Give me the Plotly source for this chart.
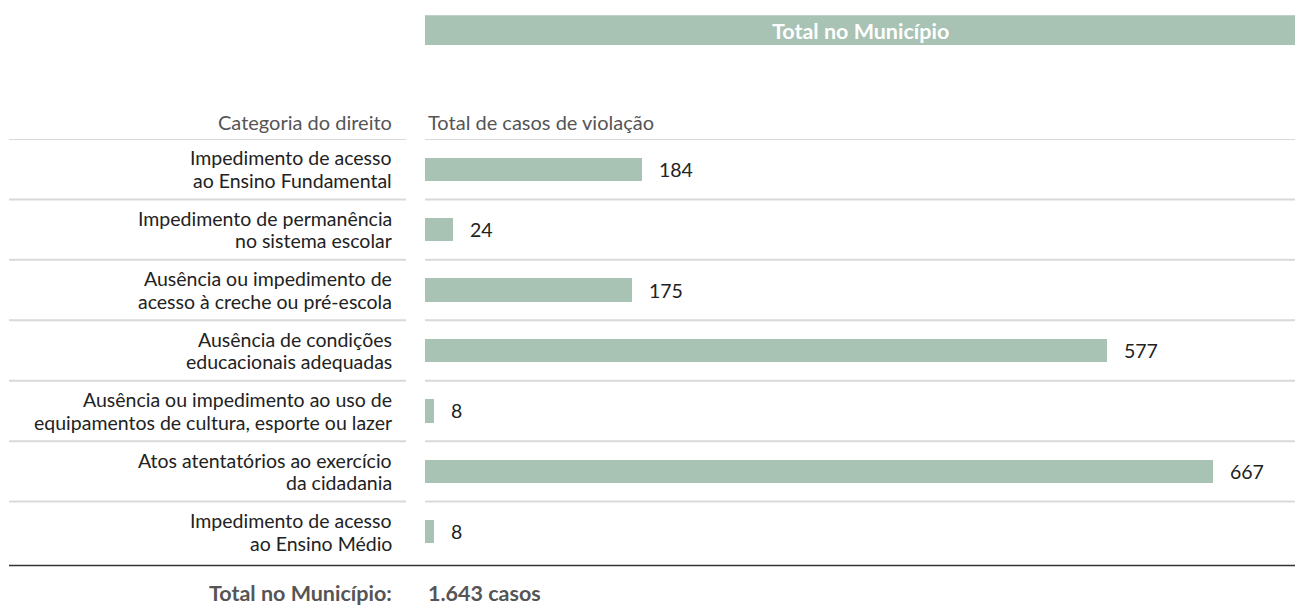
import plotly.graph_objects as go

categories = [
    "Impedimento de acesso<br>ao Ensino Fundamental",
    "Impedimento de permanência<br>no sistema escolar",
    "Ausência ou impedimento de<br>acesso à creche ou pré-escola",
    "Ausência de condições<br>educacionais adequadas",
    "Ausência ou impedimento ao uso de<br>equipamentos de cultura, esporte ou lazer",
    "Atos atentatórios ao exercício<br>da cidadania",
    "Impedimento de acesso<br>ao Ensino Médio",
]
values = [184, 24, 175, 577, 8, 667, 8]
header_title = "Total no Município"
col_left = "Categoria do direito"
col_right = "Total de casos de violação"
total_label = "Total no Município:"
total_value = "1.643 casos"

W, H = 1295, 610
L, T = 425, 139
PLOT_H = 7 * 60.5
B = H - T - PLOT_H
PLOT_W = W - L

BAR = "#a8c2b4"
FONT = "Lato"
TXT = "#222222"
GRAY = "#555555"
FS = 19.5

def px_x(p):
    return (p - L) / PLOT_W

def px_y(p):
    return (T + PLOT_H - p) / PLOT_H

ypos = list(range(len(categories)))

fig = go.Figure()
fig.add_trace(go.Bar(
    x=values, y=ypos, orientation="h", width=0.386,
    marker=dict(color=BAR, line=dict(width=0)),
    hoverinfo="skip",
))

shapes = []
annotations = []

# header bar
shapes.append(dict(type="rect", xref="paper", yref="paper",
                   x0=0, x1=1, y0=px_y(45), y1=px_y(15),
                   fillcolor=BAR, line=dict(width=0), layer="below"))
annotations.append(dict(text=f"<b>{header_title}</b>", xref="paper", yref="paper",
                        x=0.5, y=px_y(31), xanchor="center", yanchor="middle",
                        showarrow=False, font=dict(family=FONT, size=21.5, color="white")))

# column headers
annotations.append(dict(text=col_left, xref="paper", yref="paper",
                        x=px_x(394), y=px_y(122), xanchor="right", yanchor="middle",
                        showarrow=False, font=dict(family=FONT, size=20, color=GRAY)))
annotations.append(dict(text=col_right, xref="paper", yref="paper",
                        x=px_x(426), y=px_y(122), xanchor="left", yanchor="middle",
                        showarrow=False, font=dict(family=FONT, size=20, color=GRAY)))

# separators (between rows), in data coords
for k in range(len(categories)):
    yv = k - 0.5
    shapes.append(dict(type="line", xref="paper", yref="y",
                       x0=px_x(9), x1=px_x(406), y0=yv, y1=yv,
                       line=dict(color="#d9d9d9", width=2)))
    shapes.append(dict(type="line", xref="paper", yref="y",
                       x0=0, x1=1, y0=yv, y1=yv,
                       line=dict(color="#d9d9d9", width=2)))

# bottom line
shapes.append(dict(type="line", xref="paper", yref="paper",
                   x0=px_x(9), x1=1, y0=px_y(566), y1=px_y(566),
                   line=dict(color="#333333", width=1.5)))

# category labels and value labels
for yv, cat, v in zip(ypos, categories, values):
    lines = cat.split("<br>")
    for i, ln in enumerate(lines):
        shift = (len(lines) - 1) / 2 * 22.7 - i * 22.7
        annotations.append(dict(text=ln, xref="paper", yref="y",
                                x=px_x(394), y=yv, xanchor="right", yanchor="middle",
                                yshift=shift, showarrow=False,
                                font=dict(family=FONT, size=FS, color=TXT)))
    annotations.append(dict(text=str(v), xref="x", yref="y",
                            x=v, y=yv, xanchor="left", yanchor="middle",
                            xshift=15, showarrow=False,
                            font=dict(family=FONT, size=FS, color=TXT)))

# total
annotations.append(dict(text=f"<b>{total_label}</b>", xref="paper", yref="paper",
                        x=px_x(394), y=px_y(594), xanchor="right", yanchor="middle",
                        showarrow=False, font=dict(family=FONT, size=21.5, color=GRAY)))
annotations.append(dict(text=f"<b>{total_value}</b>", xref="paper", yref="paper",
                        x=px_x(426), y=px_y(594), xanchor="left", yanchor="middle",
                        showarrow=False, font=dict(family=FONT, size=21.5, color=GRAY)))

fig.update_layout(
    width=W, height=H,
    margin=dict(l=L, r=0, t=T, b=B, pad=0),
    paper_bgcolor="white", plot_bgcolor="white",
    showlegend=False,
    xaxis=dict(range=[0, PLOT_W / 1.182], visible=False, fixedrange=True),
    yaxis=dict(range=[6.5, -0.5], visible=False, fixedrange=True),
    shapes=shapes, annotations=annotations,
    bargap=0,
)

fig.write_html("out.html", config={"displayModeBar": False},
               post_script="document.body.style.margin='0';document.body.style.overflow='hidden';")
